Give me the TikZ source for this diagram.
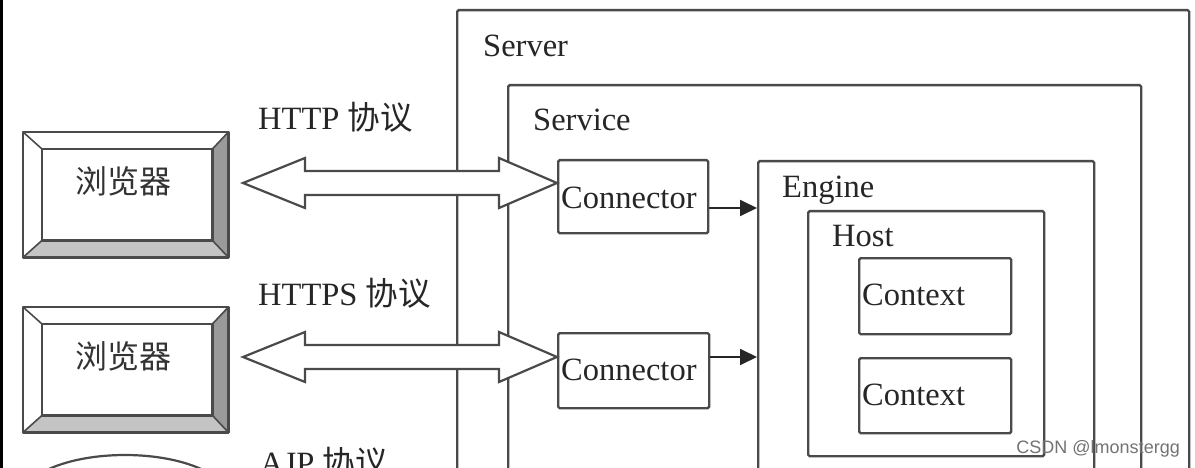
\documentclass[tikz,border=0pt]{standalone}
\usepackage{fontspec}
\setmainfont{Liberation Serif}
\newfontfamily\cjk{Noto Sans CJK SC}
\newfontfamily\wmfont{Liberation Sans}
\usetikzlibrary{arrows.meta,calc,shapes.geometric}
\definecolor{ln}{HTML}{4A4A4A}
\definecolor{bevR}{HTML}{9A9A9A}
\definecolor{bevB}{HTML}{C4C4C4}
\tikzset{
  box/.style={draw=ln,line width=2.4pt,rounded corners=1.5pt,fill=none,inner sep=0pt,anchor=north west},
  lbl/.style={anchor=base west,inner sep=0pt,font=\fontsize{32.5}{32.5}\selectfont,text=black!85},
  cjklbl/.style={inner sep=0pt,font=\cjk\fontsize{32}{32}\selectfont,text=black!80},
  dblarr/.style={draw=ln,line width=2.2pt,fill=white,line join=miter},
  flow/.style={draw=black!85,line width=1.8pt,-{Triangle[length=17pt,width=16pt]}},
}
\newcommand\bevelbox[5]{% name, x1, y1, x2, y2
  \node[draw=none,minimum width=#4pt-#2pt,minimum height=#5pt-#3pt,inner sep=0pt,anchor=north west] (#1) at (#2,#3) {};
  \fill[white] ($(#1.north west)$) -- ($(#1.north east)$) -- ($(#1.north east)+(-16,17)$) -- ($(#1.north west)+(19,17)$) -- cycle;
  \fill[white] ($(#1.north west)$) -- ($(#1.north west)+(19,17)$) -- ($(#1.south west)+(19,-17)$) -- ($(#1.south west)$) -- cycle;
  \fill[bevR] ($(#1.north east)$) -- ($(#1.south east)$) -- ($(#1.south east)+(-16,-17)$) -- ($(#1.north east)+(-16,17)$) -- cycle;
  \fill[bevB] ($(#1.south west)$) -- ($(#1.south east)$) -- ($(#1.south east)+(-16,-17)$) -- ($(#1.south west)+(19,-17)$) -- cycle;
  \draw[ln,line width=2.4pt,line join=round] (#1.north west) rectangle (#1.south east);
  \draw[ln,line width=2.2pt] ($(#1.north west)+(19,17)$) rectangle ($(#1.south east)+(-16,-17)$);
  \draw[ln,line width=1.6pt] (#1.north west) -- ($(#1.north west)+(19,17)$)
    (#1.north east) -- ($(#1.north east)+(-16,17)$)
    (#1.south west) -- ($(#1.south west)+(19,-17)$)
    (#1.south east) -- ($(#1.south east)+(-16,-17)$);
}
\newcommand\twoway[2]{% left tip coordinate, right tip coordinate
  \path[dblarr] let \p1=(#1), \p2=(#2) in
    (\p1) -- (\x1+62pt,\y1+25pt) -- (\x1+62pt,\y1+12pt) -- (\x2-58pt,\y1+12pt) -- (\x2-58pt,\y1+25pt)
    -- (\x2,\y1) -- (\x2-58pt,\y1-25pt) -- (\x2-58pt,\y1-12pt) -- (\x1+62pt,\y1-12pt) -- (\x1+62pt,\y1-25pt) -- cycle;
}
\begin{document}
\begin{tikzpicture}[x=1pt,y=-1pt]
\useasboundingbox (0,0) rectangle (1195,468);
\begin{scope}
\clip (0,0) rectangle (1195,468);
\fill[white] (0,0) rectangle (1195,468);
\draw[black,line width=3pt] (1.5,0) -- (1.5,468);

% containers
\node[box,minimum width=732pt,minimum height=530pt] (server) at (456,9) {};
\node[box,minimum width=633pt,minimum height=460pt] (service) at (507,84) {};
\node[box,minimum width=336pt,minimum height=380pt] (engine) at (757,160) {};
\node[box,minimum width=236pt,minimum height=245pt] (host) at (807,210) {};
\node[box,minimum width=152pt,minimum height=76pt] (ctx1) at (858,257) {};
\node[box,minimum width=152pt,minimum height=75pt] (ctx2) at (858,357) {};
\node[box,minimum width=150pt,minimum height=73pt] (con1) at (557,159) {};
\node[box,minimum width=151pt,minimum height=75pt] (con2) at (557,332) {};

\node[lbl] (serverL) at (483,57) {Server};
\node[lbl] (serviceL) at (533,131) {Service};
\node[lbl] (engineL) at (782,197) {Engine};
\node[lbl] (hostL) at (832,247) {Host};
\node[lbl] (ctx1L) at (862,305) {Context};
\node[lbl] (ctx2L) at (862,405) {Context};
\node[lbl] (con1L) at (561,208) {Connector};
\node[lbl] (con2L) at (561,380) {Connector};

% browsers
\bevelbox{b1}{23}{132}{228}{257}
\bevelbox{b2}{23}{307}{228}{432}
\node[cjklbl] (b1t) at (123,181) {浏览器};
\node[cjklbl] (b2t) at (123,356) {浏览器};

\node[ellipse,draw=ln,line width=2.2pt,minimum width=210pt,minimum height=90pt,inner sep=0pt] (ajpclient) at (125,500) {};

% protocol labels
\node[lbl] (httpL) at (258,130) {HTTP {\cjk 协议}};
\node[lbl] (httpsL) at (258,305) {HTTPS {\cjk 协议}};
\node[lbl] (ajpL) at (260,474) {AJP {\cjk 协议}};

% two-way arrows
\coordinate (t1) at (243,183);
\coordinate (t2) at (243,357);
\twoway{t1}{con1.west |- t1}
\twoway{t2}{con2.west |- t2}

% connector -> engine
\draw[flow] (con1.east |- 0,208) -- (engine.west |- 0,208);
\draw[flow] (con2.east |- 0,357) -- (engine.west |- 0,357);

\node[anchor=base east,inner sep=0pt,font=\wmfont\fontsize{18}{18}\selectfont,text=black!55] (wm) at (1180,453) {CSDN @lmonstergg};
\end{scope}
\end{tikzpicture}
\end{document}
